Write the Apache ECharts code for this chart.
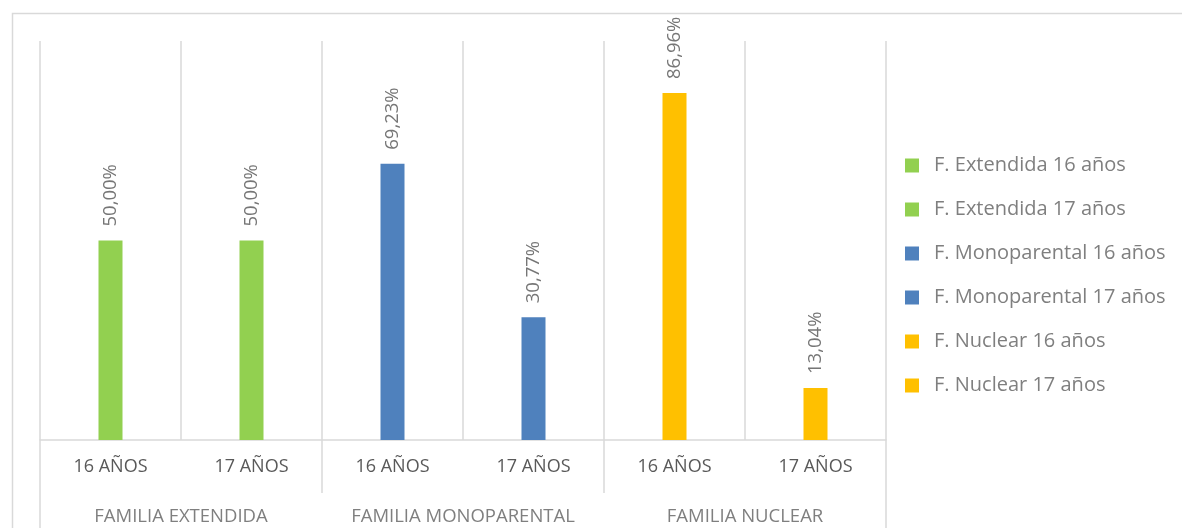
<!DOCTYPE html>
<html>
<head>
<meta charset="utf-8">
<script src="https://cdn.jsdelivr.net/npm/echarts@6/dist/echarts.min.js"></script>
<style>html,body{margin:0;padding:0;background:#fff}#c{width:1182px;height:528px}</style>
</head>
<body>
<div id="c"></div>
<script>
const ageLabels = ['16 AÑOS', '17 AÑOS', '16 AÑOS', '17 AÑOS', '16 AÑOS', '17 AÑOS'];
const groupLabels = ['FAMILIA EXTENDIDA', 'FAMILIA MONOPARENTAL', 'FAMILIA NUCLEAR'];
const seriesNames = ['F. Extendida 16 años', 'F. Extendida 17 años', 'F. Monoparental 16 años', 'F. Monoparental 17 años', 'F. Nuclear 16 años', 'F. Nuclear 17 años'];
const seriesValues = [50.00, 50.00, 69.23, 30.77, 86.96, 13.04];
const seriesColors = ['#92D050', '#92D050', '#4F81BD', '#4F81BD', '#FFC000', '#FFC000'];

const FONT = '"Open Sans"';
const series = seriesNames.map((name, i) => ({
  name: name,
  type: 'bar',
  stack: 'all',
  barWidth: 24,
  xAxisIndex: 0,
  itemStyle: { color: seriesColors[i] },
  data: seriesValues.map((v, j) => (j === i ? v : '-')),
  label: {
    show: true,
    position: 'top',
    rotate: 90,
    align: 'left',
    verticalAlign: 'middle',
    distance: 14,
    color: '#767676',
    fontFamily: FONT,
    fontSize: 18.5,
    formatter: p => p.value.toFixed(2).replace('.', ',') + '%'
  },
  emphasis: { disabled: true }
}));

const chart = echarts.init(document.getElementById('c'), null, { renderer: 'canvas' });
chart.setOption({
  animation: false,
  backgroundColor: '#fff',
  grid: { left: 40, right: 296, top: 41, bottom: 88 },
  graphic: [{
    type: 'rect', left: 10, top: 11, z: -10, silent: true,
    shape: { width: 1300, height: 700 },
    style: { fill: 'none', stroke: '#d9d9d9', lineWidth: 1.5 }
  }],
  legend: {
    orient: 'vertical',
    left: 900,
    top: 149,
    itemWidth: 14,
    itemHeight: 14,
    itemGap: 21,
    icon: 'rect',
    textStyle: { color: '#7f7f7f', fontFamily: FONT, fontSize: 20, lineHeight: 23, padding: [0, 0, 0, 10] },
    data: seriesNames
  },
  xAxis: [{
    type: 'category',
    data: ageLabels,
    position: 'bottom',
    axisLine: { show: true, lineStyle: { color: '#d9d9d9', width: 1.5 } },
    axisTick: { show: false },
    splitLine: { show: true, lineStyle: { color: '#d9d9d9', width: 1.5 } },
    axisLabel: { color: '#595959', fontFamily: FONT, fontSize: 18, margin: 18, interval: 0 }
  }, {
    type: 'category',
    data: groupLabels,
    position: 'bottom',
    axisLine: { show: false },
    axisTick: { show: true, length: 53, lineStyle: { color: '#d9d9d9', width: 1.5 } },
    axisLabel: { color: '#7f7f7f', fontFamily: FONT, fontSize: 18.5, margin: 67, interval: 0 },
    splitLine: { show: false }
  }, {
    type: 'category',
    data: [''],
    position: 'bottom',
    axisLine: { show: false },
    axisTick: { show: true, length: 90, lineStyle: { color: '#d9d9d9', width: 1.5 } },
    axisLabel: { show: false },
    splitLine: { show: false }
  }],
  yAxis: {
    type: 'value', min: 0, max: 100, show: false,
    splitLine: { show: false }
  },
  series: series
});
</script>
</body>
</html>
